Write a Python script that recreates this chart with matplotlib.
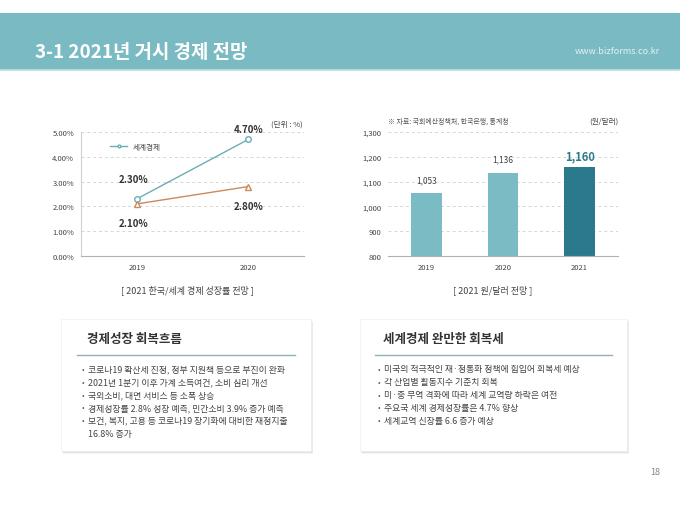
import matplotlib
matplotlib.use('Agg')
import matplotlib.pyplot as plt
from matplotlib.patches import Rectangle

plt.rcParams['font.family'] = ['Noto Sans CJK KR', 'DejaVu Sans']

# data
years_line = ['2019', '2020']
world = [2.3, 4.7]
korea = [2.1, 2.8]
years_bar = ['2019', '2020', '2021']
krw_usd = [1053, 1136, 1160]

left_points = ['코로나19 확산세 진정, 정부 지원책 등으로 부진이 완화',
               '2021년 1분기 이후 가계 소득여건, 소비 심리 개선',
               '국외소비, 대면 서비스 등 소폭 상승',
               '경제성장률 2.8% 성장 예측, 민간소비 3.9% 증가 예측',
               '보건, 복지, 고용 등 코로나19 장기화에 대비한 재정지출\n16.8% 증가']
right_points = ['미국의 적극적인 재·정통화 정책에 힘입어 회복세 예상',
                '각 산업별 활동지수 기준치 회복',
                '미·중 무역 격화에 따라 세계 교역량 하락은 여전',
                '주요국 세계 경제성장률은 4.7% 향상',
                '세계교역 신장률 6.6 증가 예상']

W, H = 680, 510
fig = plt.figure(figsize=(6.8, 5.1), dpi=100)

def box(l, t, r, b):
    return [l / W, (H - b) / H, (r - l) / W, (b - t) / H]

bg = fig.add_axes([0, 0, 1, 1])
bg.set_xlim(0, W)
bg.set_ylim(H, 0)
bg.axis('off')

# header
bg.add_patch(Rectangle((0, 14), W, 57, color='#7abbc3', lw=0))
bg.plot([0, W], [71, 71], color='#b9dfe2', lw=1.2)
bg.text(35, 52, '3-1 2021년 거시 경제 전망', color='white', fontsize=13.6,
        fontweight='bold', va='center')
bg.text(660, 52, 'www.bizforms.co.kr', color='#e3f1f2', fontsize=6.5,
        ha='right', va='center')

# text boxes
def panel(l, t, r, b, title, line_l, line_r, tx, fs):
    for k in range(4, 0, -1):
        bg.add_patch(Rectangle((l + k * 0.6, t + k * 0.8), r - l, b - t,
                               color='#000000', alpha=0.04, lw=0))
    bg.add_patch(Rectangle((l, t), r - l, b - t, facecolor='white',
                           edgecolor='#eeeeee', lw=0.5))
    bg.text(tx, 340, title, fontsize=fs, fontweight='bold',
            color='#333333', va='center')
    bg.plot([line_l, line_r], [356, 356], color='#8fb0b4', lw=1)

def bullets(bx, items):
    y = 370
    for it in items:
        bg.text(bx, y, '•', fontsize=5.5, color='#555555', va='center')
        for ln in it.split('\n'):
            bg.text(bx + 6, y, ln, fontsize=6.4, color='#444444', va='center')
            y += 12.8

panel(61, 320, 311, 452, '경제성장 회복흐름', 77, 295, 87, 9)
panel(360, 320, 627, 452, '세계경제 완만한 회복세', 375, 612, 383, 9)
bullets(82, left_points)
bullets(378, right_points)

bg.text(655, 473, '18', fontsize=6.5, color='#888888', ha='center', va='center')

# line chart
ax1 = fig.add_axes(box(81, 133, 304, 257))
ax1.patch.set_alpha(0)
x1 = range(len(years_line))
ax1.plot(x1, world, color='#6aaeb5', lw=1, marker='o', ms=4,
         mfc='white', mec='#6aaeb5', label='세계경제')
ax1.plot(x1, korea, color='#c98a5e', lw=1, marker='^', ms=4,
         mfc='white', mec='#c98a5e')
ax1.set_xlim(-0.5, 1.5)
ax1.set_ylim(0, 5)
ax1.set_yticks([0, 1, 2, 3, 4, 5])
ax1.set_yticklabels(['%.2f%%' % v for v in [0, 1, 2, 3, 4, 5]])
ax1.set_xticks(list(x1))
ax1.set_xticklabels(years_line)
ax1.grid(axis='y', ls=(0, (3, 3)), color='#d6d6d6', lw=0.7)
ax1.set_axisbelow(True)
for s in ['top', 'right']:
    ax1.spines[s].set_visible(False)
ax1.spines['left'].set_color('#d0d0d0')
ax1.spines['bottom'].set_color('#b0b0b0')
ax1.tick_params(length=0, labelsize=5.5, colors='#444444', pad=5)
ax1.annotate('%.2f%%' % world[0], (0, world[0]), xytext=(-2, 12),
             textcoords='offset points', ha='center', fontsize=7,
             fontweight='bold', color='#333333')
ax1.annotate('%.2f%%' % korea[0], (0, korea[0]), xytext=(-2, -16),
             textcoords='offset points', ha='center', fontsize=7,
             fontweight='bold', color='#333333')
ax1.annotate('%.2f%%' % world[1], (1, world[1]), xytext=(0, 5),
             textcoords='offset points', ha='center', fontsize=7,
             fontweight='bold', color='#333333')
ax1.annotate('%.2f%%' % korea[1], (1, korea[1]), xytext=(0, -16),
             textcoords='offset points', ha='center', fontsize=7,
             fontweight='bold', color='#333333')
leg = ax1.legend(loc='upper left', bbox_to_anchor=(0.1, 0.97), frameon=False,
                 fontsize=5.5, handlelength=2.2, markerscale=0.5)
for t in leg.get_texts():
    t.set_color('#444444')
bg.text(303, 125, '(단위 : %)', fontsize=5.5, color='#444444', ha='right', va='center')
bg.text(187, 290, '[ 2021 한국/세계 경제 성장률 전망 ]', fontsize=6.5,
        color='#444444', ha='center', va='center')

# bar chart
ax2 = fig.add_axes(box(388, 133, 618, 257))
ax2.patch.set_alpha(0)
x2 = range(len(years_bar))
colors = ['#7bbcc4', '#7bbcc4', '#2b7a8b']
ax2.bar(x2, krw_usd, width=0.4, color=colors)
ax2.set_xlim(-0.5, 2.5)
ax2.set_ylim(800, 1300)
ax2.set_yticks(range(800, 1301, 100))
ax2.set_yticklabels(['{:,}'.format(v) for v in range(800, 1301, 100)])
ax2.set_xticks(list(x2))
ax2.set_xticklabels(years_bar)
ax2.grid(axis='y', ls=(0, (3, 3)), color='#d6d6d6', lw=0.7)
ax2.set_axisbelow(True)
for s in ['top', 'right', 'left']:
    ax2.spines[s].set_visible(False)
ax2.spines['bottom'].set_color('#b0b0b0')
ax2.tick_params(length=0, labelsize=5.5, colors='#444444', pad=5)
for i, v in enumerate(krw_usd):
    if i == len(krw_usd) - 1:
        ax2.annotate('{:,}'.format(v), (i, v), xytext=(0, 5),
                     textcoords='offset points', ha='center', fontsize=8,
                     fontweight='bold', color='#2b7a8b')
    else:
        ax2.annotate('{:,}'.format(v), (i, v), xytext=(0, 8),
                     textcoords='offset points', ha='center', fontsize=6,
                     color='#444444')
bg.text(388, 122, '※ 자료: 국회예산정책처, 한국은행, 통계청', fontsize=5,
        color='#555555', ha='left', va='center')
bg.text(618, 122, '(원/달러)', fontsize=5.5, color='#444444', ha='right', va='center')
bg.text(493, 290, '[ 2021 원/달러 전망 ]', fontsize=6.5,
        color='#444444', ha='center', va='center')

fig.savefig('out.png', dpi=100)
